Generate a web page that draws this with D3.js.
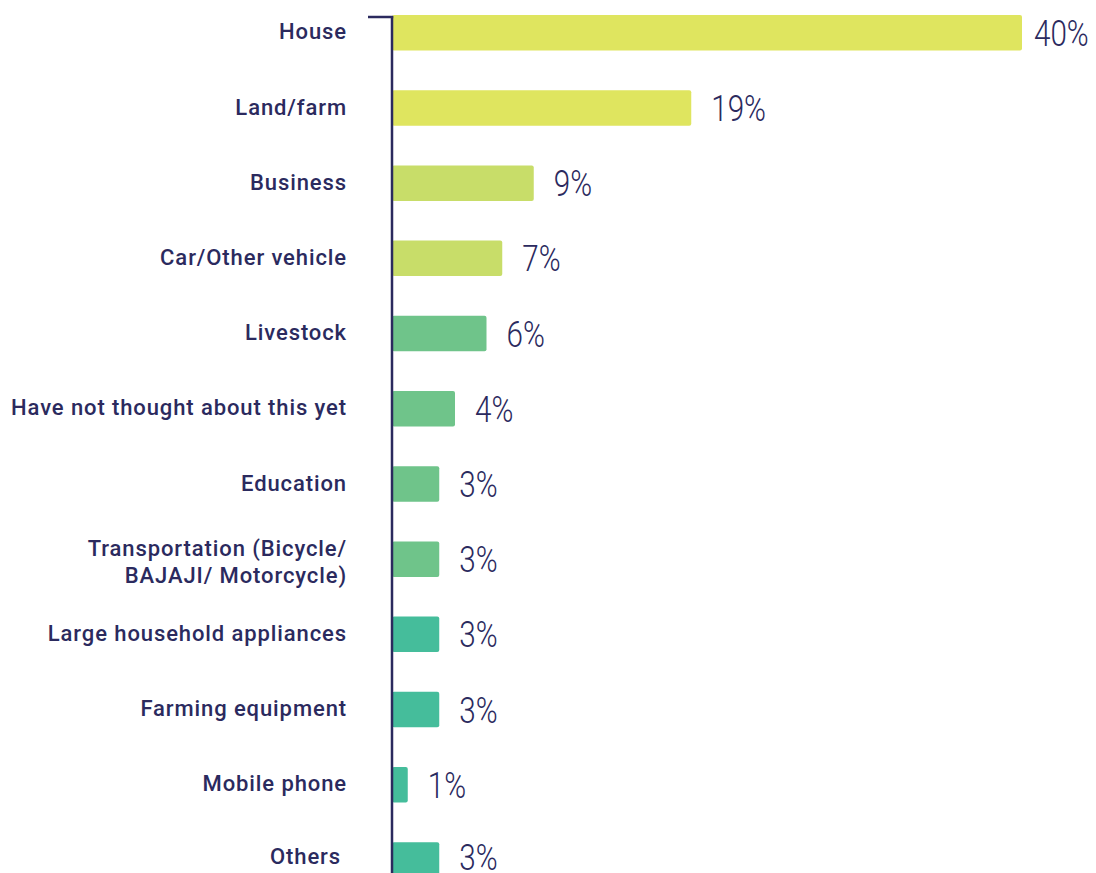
<!DOCTYPE html>
<html><head><meta charset="utf-8">
<script src="https://cdn.jsdelivr.net/npm/d3@7"></script>
<style>html,body{margin:0;padding:0;background:#fff;}svg{display:block;}</style>
</head><body>
<svg id="chart" width="1096" height="873"></svg>
<script>
const categories = ["House","Land/farm","Business","Car/Other vehicle","Livestock","Have not thought about this yet","Education","Transportation (Bicycle/\nBAJAJI/ Motorcycle)","Large household appliances","Farming equipment","Mobile phone","Others"];
const values = [40,19,9,7,6,4,3,3,3,3,1,3];
const valueLabels = ["40%","19%","9%","7%","6%","4%","3%","3%","3%","3%","1%","3%"];
const colors = ["#dfe55f","#dfe55f","#c8dd69","#c8dd69","#6fc48a","#6fc48a","#6fc48a","#6fc48a","#45bd9b","#45bd9b","#45bd9b","#45bd9b"];

const navy = "#2b2a5e";
const svg = d3.select("#chart");
const x = d3.scaleLinear().domain([0,40]).range([392,1022]);
const y = d3.scaleBand().domain(categories).range([15, 877.7]).paddingInner(0.528).paddingOuter(0);

svg.selectAll("rect.bar").data(categories).enter().append("rect")
  .attr("class","bar")
  .attr("x", x(0))
  .attr("y", d => y(d))
  .attr("width", (d,i) => x(values[i]) - x(0))
  .attr("height", y.bandwidth())
  .attr("rx", 2)
  .attr("fill", (d,i) => colors[i]);

// axis line
svg.append("line").attr("x1",392).attr("x2",392).attr("y1",16).attr("y2",873)
  .attr("stroke",navy).attr("stroke-width",2.5);
svg.append("line").attr("x1",368).attr("x2",393.2).attr("y1",17).attr("y2",17)
  .attr("stroke",navy).attr("stroke-width",2.5);

// category labels
const lab = svg.selectAll("text.cat").data(categories).enter().append("text")
  .attr("class","cat")
  .attr("text-anchor","end")
  .attr("font-family","Roboto, sans-serif")
  .attr("font-weight",500)
  .attr("font-size",22)
  .attr("letter-spacing",0.9)
  .attr("fill",navy);
lab.each(function(d){
  const lines = d.split("\n");
  const t = d3.select(this);
  const cy = y(d) + y.bandwidth()/2 - 1 - (d==="Others" ? 3 : 0);
  lines.forEach((ln,k) => {
    t.append("tspan").attr("x", d==="Others" ? 341 : 347)
      .attr("y", cy + (k - (lines.length-1)/2) * 27 + (lines.length>1 ? 4 : 0))
      .attr("dy","0.35em").text(ln);
  });
});

// value labels (condensed via horizontal scale)
svg.selectAll("text.val").data(categories).enter().append("text")
  .attr("class","val")
  .attr("transform", (d,i) => {
    const tx = Math.min(x(values[i]) + 20, 1034);
    const ty = Math.min(y(d) + y.bandwidth()/2, 857);
    return `translate(${tx},${ty}) scale(0.8,1)`;
  })
  .attr("dy","0.35em")
  .attr("font-family","Roboto, sans-serif")
  .attr("font-weight",300)
  .attr("font-size",37)
  .attr("fill",navy)
  .text((d,i) => valueLabels[i]);
</script>
</body></html>
